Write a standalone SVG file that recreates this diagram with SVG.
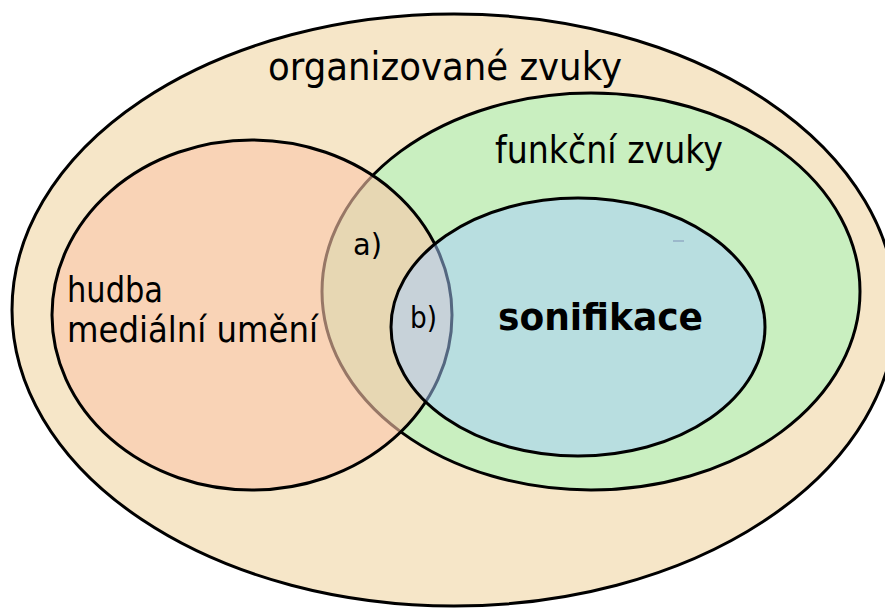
<svg xmlns="http://www.w3.org/2000/svg" width="885" height="608" viewBox="0 0 885 608">
  <style>
    .set { stroke: #000; stroke-width: 3; }
    .lbl { font-family: "DejaVu Sans", "Liberation Sans", sans-serif; fill: #000; }
    .bold { font-weight: bold; }
  </style>
  <rect width="885" height="608" fill="#ffffff"/>

  <g id="organizovane">
    <ellipse class="set" cx="454" cy="310" rx="442" ry="296" fill="#f6e6c8"/>
    <text class="lbl" x="268" y="80" font-size="39" textLength="354" lengthAdjust="spacingAndGlyphs">organizované zvuky</text>
  </g>

  <g id="funkcni">
    <ellipse class="set" cx="591" cy="291.5" rx="269" ry="198.5" fill="#c9efc0"/>
    <text class="lbl" x="495" y="163" font-size="37" textLength="228" lengthAdjust="spacingAndGlyphs">funkční zvuky</text>
    <line x1="673" y1="241" x2="684" y2="241" stroke="#7a8a8a" stroke-width="1.5"/>
  </g>

  <g id="hudba">
    <ellipse class="set" cx="252" cy="315" rx="200" ry="175" fill="#fbc6aa" fill-opacity="0.6"/>
    <text class="lbl" x="67" y="302" font-size="36" textLength="96" lengthAdjust="spacingAndGlyphs">hudba</text>
    <text class="lbl" x="67" y="342" font-size="36" textLength="251" lengthAdjust="spacingAndGlyphs">mediální umění</text>
  </g>

  <g id="sonifikace">
    <ellipse class="set" cx="578" cy="327" rx="187" ry="129" fill="#a7cdff" fill-opacity="0.5"/>
    <text class="lbl bold" x="498" y="330" font-size="38" textLength="205" lengthAdjust="spacingAndGlyphs">sonifikace</text>
  </g>

  <g id="regions">
    <text class="lbl" x="353" y="255" font-size="30" textLength="29" lengthAdjust="spacingAndGlyphs">a)</text>
    <text class="lbl" x="410" y="328" font-size="30" textLength="27" lengthAdjust="spacingAndGlyphs">b)</text>
  </g>

  <g id="connectors"/>
</svg>
